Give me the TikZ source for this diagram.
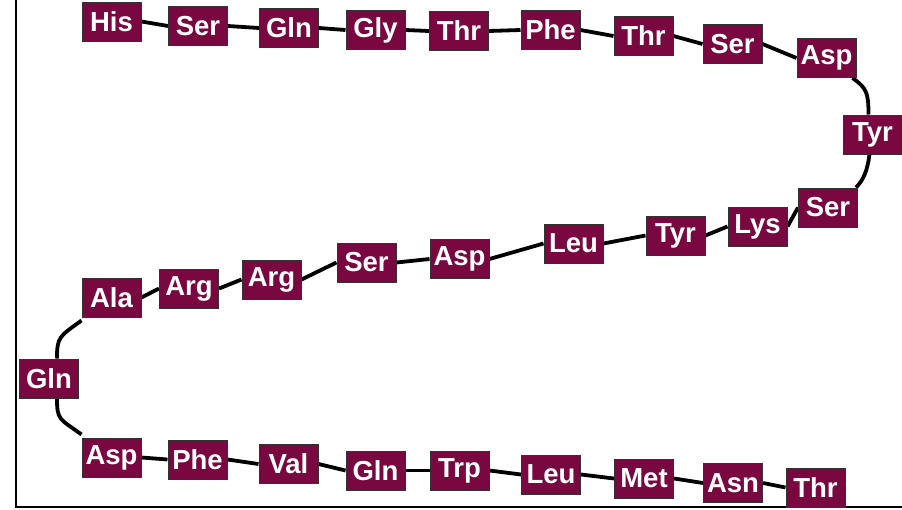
\documentclass[tikz,border=0pt]{standalone}
\usepackage{fontspec}
\setmainfont{Liberation Sans}
\usetikzlibrary{backgrounds}
\definecolor{aamaroon}{RGB}{122,8,64}
\definecolor{aaedge}{RGB}{50,50,50}
\tikzset{
  aa/.style={draw=aaedge, line width=1pt, fill=aamaroon, text=white,
    minimum width=59pt, minimum height=39pt, inner sep=0pt,
    font=\fontsize{27.5}{27.5}\selectfont\bfseries},
  bond/.style={draw=black, line width=3.8pt},
  frameline/.style={draw=black, line width=1.5pt}
}
\begin{document}
\begin{tikzpicture}[x=1pt,y=-1pt]
\useasboundingbox (0,0) rectangle (902,509);
% frame
\coordinate (ftop) at (16,0);
\coordinate (fcorner) at (16,507);
\coordinate (fright) at (902,507);
\draw[frameline] (ftop) -- (fcorner) -- (fright);
% row 1
\node[aa] (r1a) at (111.5,21.5) {His};
\node[aa] (r1b) at (198,26) {Ser};
\node[aa] (r1c) at (289,28) {Gln};
\node[aa] (r1d) at (375.5,30) {Gly};
\node[aa] (r1e) at (459,31) {Thr};
\node[aa] (r1f) at (550.5,30) {Phe};
\node[aa] (r1g) at (643.5,36) {Thr};
\node[aa] (r1h) at (732.5,44) {Ser};
\node[aa] (r1i) at (826.5,58) {Asp};
\node[aa] (tyr) at (872.5,134.5) {Tyr};
% row 2
\node[aa] (r2a) at (828,207.5) {Ser};
\node[aa] (r2b) at (757.5,226.5) {Lys};
\node[aa] (r2c) at (675.5,235.5) {Tyr};
\node[aa] (r2d) at (573.5,243.5) {Leu};
\node[aa] (r2e) at (459.5,259) {Asp};
\node[aa] (r2f) at (366.5,262.5) {Ser};
\node[aa] (r2g) at (271.5,279.5) {Arg};
\node[aa] (r2h) at (189,288.5) {Arg};
\node[aa] (r2i) at (111.5,297.5) {Ala};
\node[aa] (gln) at (49,378.5) {Gln};
% row 3
\node[aa] (r3a) at (111.5,457.5) {Asp};
\node[aa] (r3b) at (197.5,459.5) {Phe};
\node[aa] (r3c) at (288.5,464) {Val};
\node[aa] (r3d) at (375.5,470.5) {Gln};
\node[aa] (r3e) at (459.5,470.5) {Trp};
\node[aa] (r3f) at (551,474.5) {Leu};
\node[aa] (r3g) at (644,478.5) {Met};
\node[aa] (r3h) at (733,483) {Asn};
\node[aa] (r3i) at (815.5,487.5) {Thr};
\begin{scope}[on background layer]
  \foreach \a/\b in {r1a/r1b,r1b/r1c,r1c/r1d,r1d/r1e,r1e/r1f,r1f/r1g,r1g/r1h,r1h/r1i,
                     r3a/r3b,r3b/r3c,r3c/r3d,r3d/r3e,r3e/r3f,r3f/r3g,r3g/r3h,r3h/r3i}
    \draw[bond] (\a.east) -- (\b.west);
  \foreach \a/\b in {r2a/r2b,r2b/r2c,r2c/r2d,r2d/r2e,r2e/r2f,r2f/r2g,r2g/r2h,r2h/r2i}
    \draw[bond] (\a.west) -- (\b.east);
  \draw[bond] ([xshift=-4pt]r1i.south east) .. controls ++(14,10) and ++(0,-22) .. ([xshift=-4pt]tyr.north);
  \draw[bond] ([xshift=-3pt]tyr.south) .. controls ++(-2,15) and ++(8,-8) .. ([xshift=-2pt]r2a.north east);
  \draw[bond] ([yshift=-3pt]r2i.south west) .. controls ++(-22,16) and ++(0,-22) .. ([xshift=8pt]gln.north);
  \draw[bond] ([xshift=8pt]gln.south) .. controls ++(0,22) and ++(-22,-16) .. ([yshift=3pt]r3a.north west);
\end{scope}
\end{tikzpicture}
\end{document}
